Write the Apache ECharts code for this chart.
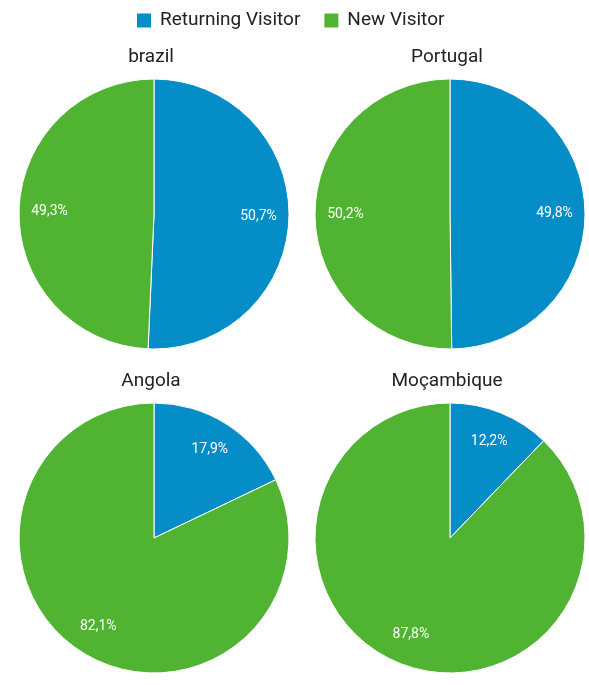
<!DOCTYPE html>
<html>
<head>
<meta charset="utf-8">
<script src="https://cdn.jsdelivr.net/npm/echarts@6/dist/echarts.min.js"></script>
<style>html,body{margin:0;padding:0;background:#fff;}#c{width:589px;height:685px;}</style>
</head>
<body>
<div id="c"></div>
<script>
var countries = ['brazil', 'Portugal', 'Angola', 'Moçambique'];
var seriesNames = ['Returning Visitor', 'New Visitor'];
var returningVisitor = [50.7, 49.8, 17.9, 12.2];
var newVisitor = [49.3, 50.2, 82.1, 87.8];
var colors = ['#058DC7', '#50B432'];

var centers = [[154, 214], [450, 214], [154, 538], [450, 538]];
var titlePos = [[146, 43], [442, 43], [146, 367], [442, 367]];
var R = 135;

var chart = echarts.init(document.getElementById('c'), null, {renderer: 'canvas'});
var font = 'Roboto, "Noto Sans", sans-serif';
var series = [];
var titles = [];
countries.forEach(function (name, i) {
  var data = [
    {name: seriesNames[0], value: returningVisitor[i]},
    {name: seriesNames[1], value: newVisitor[i]}
  ];
  titles.push({
    text: name, left: titlePos[i][0], top: titlePos[i][1], textAlign: 'center',
    textStyle: {fontFamily: font, fontSize: 19, fontWeight: 'normal', color: '#222'}
  });
  series.push({
    type: 'pie', name: name, center: centers[i], radius: [0, R],
    startAngle: 90, clockwise: true, silent: true, animation: false,
    itemStyle: {borderColor: '#fff', borderWidth: 1},
    label: {show: false}, labelLine: {show: false},
    data: data
  });
  series.push({
    type: 'pie', name: name + ' labels', center: centers[i], radius: [68, R],
    startAngle: 90, clockwise: true, silent: true, animation: false,
    itemStyle: {color: 'rgba(0,0,0,0)', borderWidth: 0},
    label: {
      show: true, position: 'inside', color: '#fff', fontFamily: font, fontSize: 14,
      formatter: function (p) { return p.value.toFixed(1).replace('.', ',') + '%'; }
    },
    labelLine: {show: false},
    emphasis: {disabled: true},
    legendHoverLink: false,
    data: data.map(function (d) { return {name: d.name + ' ', value: d.value}; })
  });
});

chart.setOption({
  animation: false,
  color: colors,
  title: titles,
  legend: {
    data: seriesNames, top: 6, left: 130, icon: 'rect',
    itemWidth: 16, itemHeight: 16, itemGap: 22,
    textStyle: {fontFamily: font, fontSize: 19, color: '#222', padding: [0, 0, 0, 3]}
  },
  series: series
});
</script>
</body>
</html>
